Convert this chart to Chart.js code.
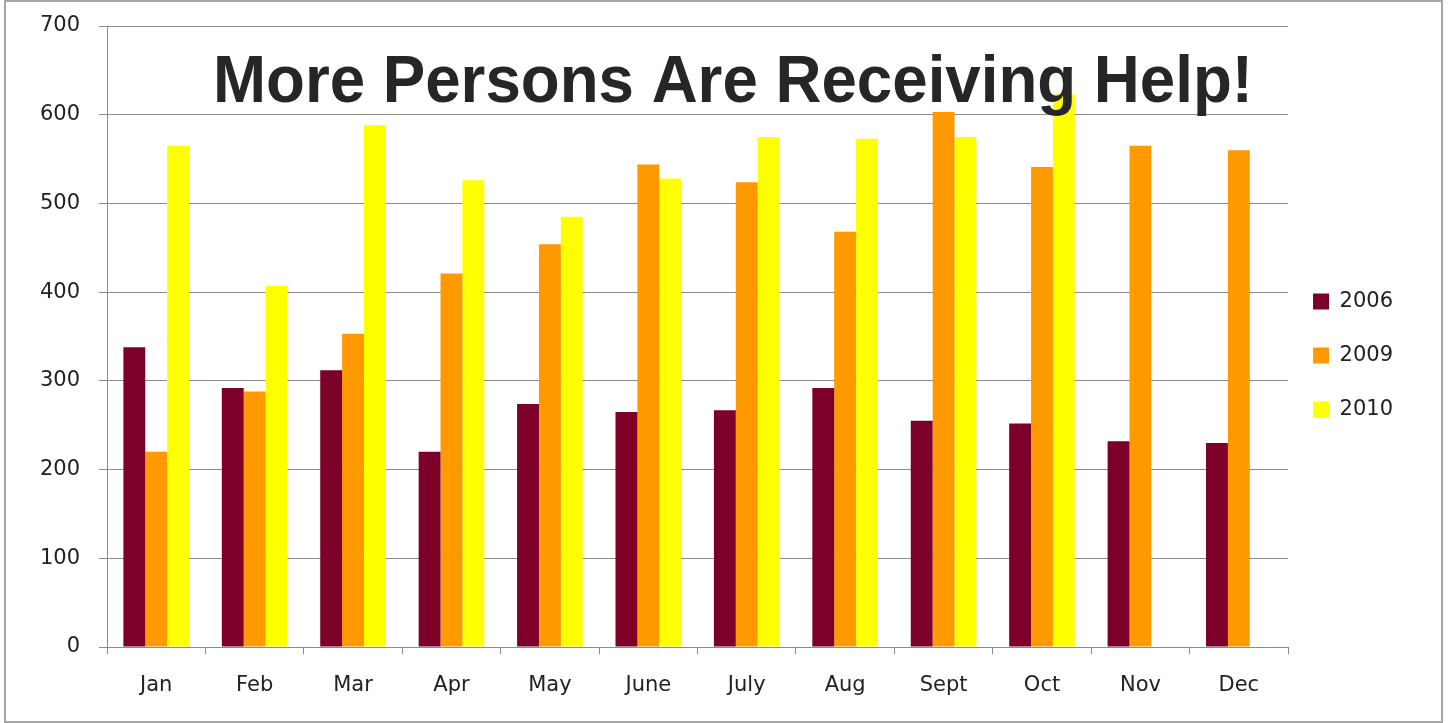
<!DOCTYPE html>
<html>
<head>
<meta charset="utf-8">
<script src="https://cdn.jsdelivr.net/npm/chart.js@4"></script>
<style>
  html, body { margin: 0; padding: 0; background: #fff; }
  #wrap { position: relative; width: 1448px; height: 723px; }
  canvas { display: block; }
</style>
</head>
<body>
<div id="wrap"><canvas id="c" width="1448" height="723"></canvas></div>
<script>
const chartTitle = "More Persons Are Receiving Help!";
const months = ["Jan", "Feb", "Mar", "Apr", "May", "June", "July", "Aug", "Sept", "Oct", "Nov", "Dec"];
const seriesNames = ["2006", "2009", "2010"];
const values2006 = [338, 292, 312, 220, 274, 265, 267, 292, 255, 252, 232, 230];
const values2009 = [220, 288, 353, 421, 454, 544, 524, 468, 603, 541, 565, 560];
const values2010 = [565, 407, 588, 526, 485, 528, 575, 573, 575, 623, null, null];
const yTicks = [0, 100, 200, 300, 400, 500, 600, 700];

const seriesColors = ["#7D0029", "#FF9900", "#FFFF00"];
const labelFont = "'DejaVu Sans', sans-serif";

const frameAndTitle = {
  id: 'frameAndTitle',
  afterLayout(chart) {
    const lg = chart.legend;
    if (lg) {
      lg.left -= 8; lg.right -= 8;
      lg.top -= 12; lg.bottom -= 12;
    }
  },
  beforeDraw(chart) {
    const ctx = chart.ctx;
    ctx.save();
    ctx.fillStyle = '#fff';
    ctx.fillRect(0, 0, chart.width, chart.height);
    ctx.strokeStyle = '#a6a6a6';
    ctx.lineWidth = 2;
    ctx.strokeRect(5, 1, 1437, 721);
    ctx.restore();
  },
  afterDraw(chart) {
    const ctx = chart.ctx;
    ctx.save();
    ctx.font = "bold 66px 'Liberation Sans', Arial, sans-serif";
    ctx.fillStyle = '#262626';
    ctx.textBaseline = 'alphabetic';
    ctx.textAlign = 'left';
    const w = ctx.measureText(chartTitle).width;
    const sx = 1040 / w;
    ctx.translate(213, 102);
    ctx.scale(sx, 1);
    ctx.fillText(chartTitle, 0, 0);
    ctx.restore();
  }
};

const ctx = document.getElementById('c').getContext('2d');
new Chart(ctx, {
  type: 'bar',
  data: {
    labels: months,
    datasets: [
      { label: seriesNames[0], data: values2006, backgroundColor: seriesColors[0] },
      { label: seriesNames[1], data: values2009, backgroundColor: seriesColors[1] },
      { label: seriesNames[2], data: values2010, backgroundColor: seriesColors[2] }
    ]
  },
  options: {
    responsive: false,
    animation: false,
    layout: { padding: { left: 0, top: 26, right: 37, bottom: 14 } },
    datasets: { bar: { categoryPercentage: 0.667, barPercentage: 1.0, borderWidth: 0 } },
    plugins: {
      title: { display: false },
      tooltip: { enabled: false },
      legend: {
        position: 'right',
        align: 'center',
        labels: {
          boxWidth: 16, boxHeight: 16,
          padding: 33,
          color: '#222',
          font: { family: labelFont, size: 21 }
        }
      }
    },
    scales: {
      x: {
        grid: { drawOnChartArea: false, drawTicks: true, tickLength: 7, color: '#8c8c8c', offset: true },
        border: { color: '#8c8c8c', width: 1 },
        ticks: { color: '#222', font: { family: labelFont, size: 21 }, padding: 19, maxRotation: 0 },
        afterFit(scale) { scale.height = 62; }
      },
      y: {
        min: 0, max: 700,
        afterBuildTicks(scale) { scale.ticks = yTicks.map(v => ({ value: v })); },
        grid: { color: '#8c8c8c', lineWidth: 1, tickLength: 8 },
        border: { color: '#8c8c8c', width: 1 },
        ticks: { color: '#222', font: { family: labelFont, size: 21 }, padding: 19 },
        afterFit(scale) { scale.width = 107; scale.paddingTop = 0; scale.paddingBottom = 0; }
      }
    }
  },
  plugins: [frameAndTitle]
});
</script>
</body>
</html>
